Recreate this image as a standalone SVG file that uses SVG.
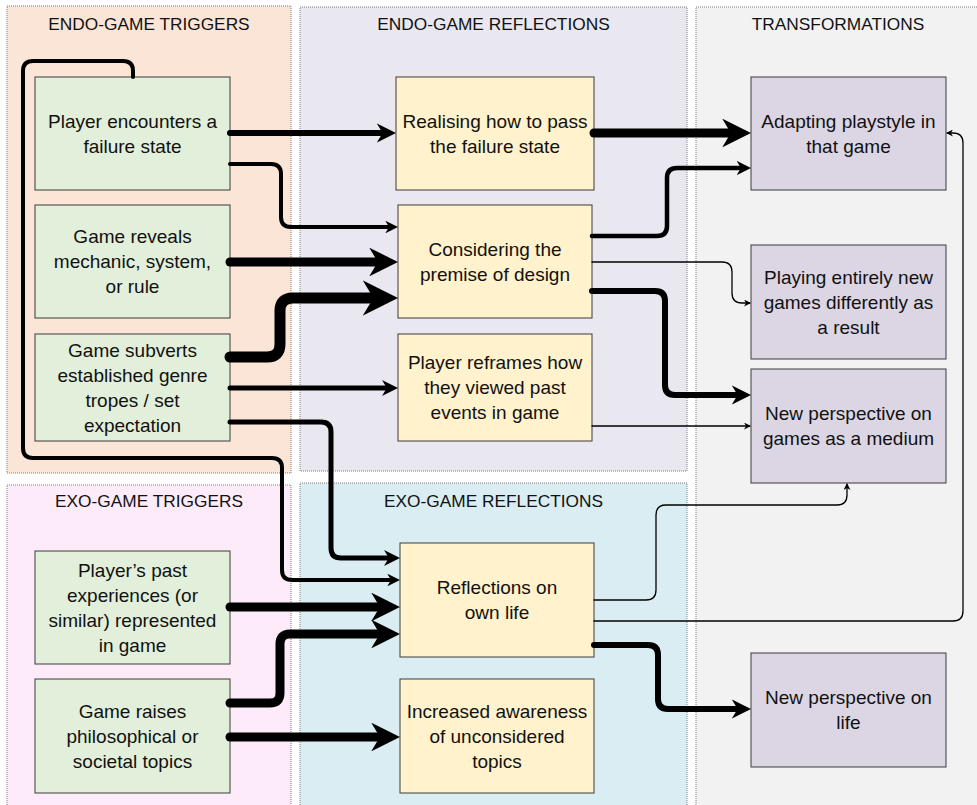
<svg xmlns="http://www.w3.org/2000/svg" width="977" height="805" viewBox="0 0 977 805">
<style>
.panel{stroke:#7f7f7f;stroke-width:1;stroke-dasharray:1 1}
.title{font-family:"Liberation Sans",Arial,sans-serif;font-size:17.3px;fill:#111;text-anchor:middle}
.node rect{stroke:#3a3a3a;stroke-width:1}
.node text{font-family:"Liberation Sans",Arial,sans-serif;font-size:19px;fill:#111;text-anchor:middle}
.trig rect{fill:#e2efda}
.refl rect{fill:#fff2cc}
.trans rect{fill:#dcd6e4}
.c{fill:none;stroke:#000;stroke-linecap:round;stroke-linejoin:round}
.thick{marker-end:url(#ah)}
.thin{stroke-width:1.3;marker-end:url(#ahs)}
</style>
<defs>
<marker id="ah" viewBox="0 0 10 10" refX="4" refY="5" markerWidth="3.2" markerHeight="3.2" orient="auto" markerUnits="strokeWidth"><path d="M0,0 L10,5 L0,10 L3,5 z" fill="#000"/></marker>
<marker id="ahs" viewBox="0 0 10 10" refX="8" refY="5" markerWidth="7" markerHeight="7" orient="auto" markerUnits="userSpaceOnUse"><path d="M0,0 L10,5 L0,10 L3,5 z" fill="#000"/></marker>
</defs>
<rect width="977" height="805" fill="#ffffff"/>
<g id="panels">
<rect class="panel" x="7" y="6" width="284" height="467" fill="#fbe5d6"/>
<rect class="panel" x="300" y="7" width="387" height="464" fill="#e9e7f0"/>
<rect class="panel" x="696" y="7" width="290" height="810" fill="#f2f2f2"/>
<rect class="panel" x="7" y="485" width="284" height="330" fill="#fdebfa"/>
<rect class="panel" x="300" y="483" width="387" height="330" fill="#daedf3"/>
<text class="title" x="149" y="29.5">ENDO-GAME TRIGGERS</text>
<text class="title" x="493.5" y="29.5">ENDO-GAME REFLECTIONS</text>
<text class="title" x="838" y="30">TRANSFORMATIONS</text>
<text class="title" x="149" y="507">EXO-GAME TRIGGERS</text>
<text class="title" x="493.5" y="506.5">EXO-GAME REFLECTIONS</text>
</g>
<g id="n1" class="node trig"><rect x="35" y="77" width="195" height="113"/><text x="132.5" y="127.5">Player encounters a</text><text x="132.5" y="152.5">failure state</text></g>
<g id="n2" class="node trig"><rect x="35" y="205" width="195" height="113"/><text x="132.5" y="243">Game reveals</text><text x="132.5" y="268">mechanic, system,</text><text x="132.5" y="293">or rule</text></g>
<g id="n3" class="node trig"><rect x="35" y="334" width="195" height="107"/><text x="132.5" y="356.5">Game subverts</text><text x="132.5" y="381.5">established genre</text><text x="132.5" y="406.5">tropes / set</text><text x="132.5" y="431.5">expectation</text></g>
<g id="n4" class="node trig"><rect x="35" y="551" width="195" height="113"/><text x="132.5" y="576.5">Player’s past</text><text x="132.5" y="601.5">experiences (or</text><text x="132.5" y="626.5">similar) represented</text><text x="132.5" y="651.5">in game</text></g>
<g id="n5" class="node trig"><rect x="35" y="679" width="195" height="114"/><text x="132.5" y="717.5">Game raises</text><text x="132.5" y="742.5">philosophical or</text><text x="132.5" y="767.5">societal topics</text></g>
<g id="r1" class="node refl"><rect x="396" y="77" width="198" height="113"/><text x="495" y="127.5">Realising how to pass</text><text x="495" y="152.5">the failure state</text></g>
<g id="r2" class="node refl"><rect x="398" y="205" width="194" height="113"/><text x="495" y="255.5">Considering the</text><text x="495" y="280.5">premise of design</text></g>
<g id="r3" class="node refl"><rect x="398" y="334" width="194" height="107"/><text x="495" y="369">Player reframes how</text><text x="495" y="394">they viewed past</text><text x="495" y="419">events in game</text></g>
<g id="r4" class="node refl"><rect x="400" y="543" width="194" height="114"/><text x="497" y="593.5">Reflections on</text><text x="497" y="619">own life</text></g>
<g id="r5" class="node refl"><rect x="400" y="679" width="194" height="114"/><text x="497" y="717.5">Increased awareness</text><text x="497" y="742.5">of unconsidered</text><text x="497" y="767.5">topics</text></g>
<g id="t1" class="node trans"><rect x="751" y="77" width="195" height="113"/><text x="848.5" y="127.5">Adapting playstyle in</text><text x="848.5" y="152.5">that game</text></g>
<g id="t2" class="node trans"><rect x="751" y="245" width="195" height="114"/><text x="848.5" y="283.5">Playing entirely new</text><text x="848.5" y="308.5">games differently as</text><text x="848.5" y="333.5">a result</text></g>
<g id="t3" class="node trans"><rect x="751" y="369" width="195" height="114"/><text x="848.5" y="419.5">New perspective on</text><text x="848.5" y="444.5">games as a medium</text></g>
<g id="t4" class="node trans"><rect x="751" y="653" width="195" height="114"/><text x="848.5" y="703.5">New perspective on</text><text x="848.5" y="728.5">life</text></g>
<g id="connectors">
<path class="c thick" stroke-width="6" d="M230,133 H384.5"/>
<path class="c thick" stroke-width="9" d="M594,133 H733.7"/>
<path class="c thick" stroke-width="4" d="M230,164 H271 Q281,164 281,174 V217 Q281,227 291,227 H390.3"/>
<path class="c thick" stroke-width="4" d="M133,77 V71 Q133,61 123,61 H33 Q23,61 23,71 V448 Q23,458 33,458 H272 Q282,458 282,468 V570 Q282,580 292,580 H392.3"/>
<path class="c thick" stroke-width="9" d="M230,262 H380.7"/>
<path class="c thick" stroke-width="11" d="M230,357 H267 Q280,357 280,344 V311 Q280,298 293,298 H376.9"/>
<path class="c thick" stroke-width="5" d="M230,388 H388.4"/>
<path class="c thick" stroke-width="5" d="M230,422 H321 Q331,422 331,432 V548 Q331,558 341,558 H390.4"/>
<path class="c thick" stroke-width="9" d="M230,607 H382.7"/>
<path class="c thick" stroke-width="9" d="M230,703 H270 Q280,703 280,693 V644 Q280,634 290,634 H382.7"/>
<path class="c thick" stroke-width="9" d="M230,737 H382.7"/>
<path class="c thick" stroke-width="4.5" d="M592,236 H657 Q667,236 667,226 V178 Q667,168 677,168 H742.4"/>
<path class="c thin" d="M592,262 H722 Q732,262 732,272 V293 Q732,303 742,303 H749.6"/>
<path class="c thick" stroke-width="6" d="M592,291 H655 Q665,291 665,301 V385 Q665,395 675,395 H739.5"/>
<path class="c thin" d="M592,426 H749.6"/>
<path class="c thin" d="M594,600 H646 Q656,600 656,590 V515 Q656,505 666,505 H837 Q847,505 847,495 V484.4"/>
<path class="c thin" d="M594,621 H953 Q963,621 963,611 V143 Q963,133 953,133 H947.4"/>
<path class="c thick" stroke-width="6" d="M594,645 H648 Q658,645 658,655 V699 Q658,709 668,709 H739.5"/>
</g>
</svg>
